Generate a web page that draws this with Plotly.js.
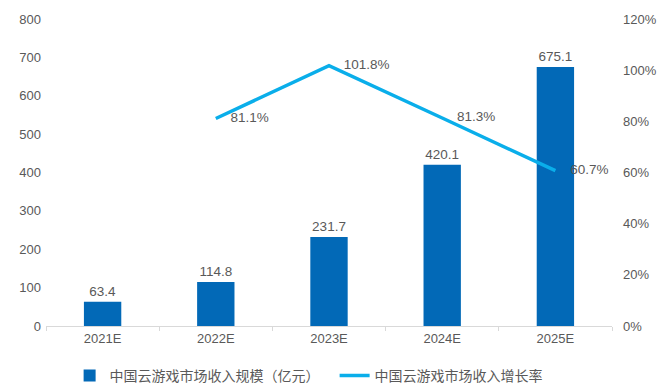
<!DOCTYPE html>
<html><head><meta charset="utf-8">
<script src="https://cdn.plot.ly/plotly-3.0.1.min.js"></script>
<style>html,body{margin:0;padding:0;background:#fff;}#chart{width:663px;height:390px;}</style>
</head><body><div id="chart"></div>
<script>
const categories = ["2021E","2022E","2023E","2024E","2025E"];
const revenue = [63.4, 114.8, 231.7, 420.1, 675.1];
const growth = [null, 81.1, 101.8, 81.3, 60.7];
const revenueName = "中国云游戏市场收入规模（亿元）";
const growthName = "中国云游戏市场收入增长率";

const FONT = "Liberation Sans, Arial, Noto Sans CJK SC, sans-serif";
const GRAY = "#595959";

const traces = [
  {
    type: "bar", x: categories, y: revenue, name: revenueName,
    marker: {color: "#0269B7"}, width: 0.33,
    text: revenue.map(v => v.toFixed(1)), textposition: "outside",
    textfont: {color: GRAY, size: 13.5, family: FONT}, cliponaxis: false,
    hoverinfo: "skip"
  },
  {
    type: "scatter", mode: "lines+markers+text", x: categories, y: growth, yaxis: "y2",
    name: growthName, line: {color: "#0AAEEA", width: 3.5},
    marker: {size: 22, color: "rgba(0,0,0,0)"},
    text: growth.map(v => v == null ? "" : v.toFixed(1) + "%"),
    textposition: "middle right",
    textfont: {color: GRAY, size: 13.5, family: FONT}, cliponaxis: false,
    hoverinfo: "skip"
  }
];

const layout = {
  width: 663, height: 390,
  margin: {l: 46, r: 51, t: 19, b: 64},
  paper_bgcolor: "#fff", plot_bgcolor: "#fff",
  font: {family: FONT, color: GRAY, size: 13},
  showlegend: true,
  bargap: 0.67,
  xaxis: {
    type: "category", showgrid: false, zeroline: false,
    showline: true, linecolor: "#D9D9D9", linewidth: 1,
    ticks: "outside", tickson: "boundaries", ticklen: 4, tickcolor: "#D9D9D9",
    tickfont: {size: 13, color: GRAY}
  },
  yaxis: {
    range: [0, 800], dtick: 100, showgrid: false, zeroline: false,
    showline: false, ticks: "", ticklabelstandoff: 4,
    tickfont: {size: 13, color: GRAY}
  },
  yaxis2: {
    overlaying: "y", side: "right", range: [0, 120], dtick: 20,
    ticksuffix: "%", showgrid: false, zeroline: false, showline: false,
    ticklabelstandoff: 10,
    tickfont: {size: 13, color: GRAY}
  },
  legend: {
    orientation: "h", xref: "container", yref: "container",
    x: 0.105, xanchor: "left", y: 0.036, yanchor: "middle",
    entrywidth: 220, entrywidthmode: "pixels",
    font: {size: 14, color: GRAY, family: "Noto Sans CJK SC, Liberation Sans, sans-serif"},
    traceorder: "normal"
  }
};

Plotly.newPlot("chart", traces, layout, {displayModeBar: false, staticPlot: true});
</script>
</body></html>
